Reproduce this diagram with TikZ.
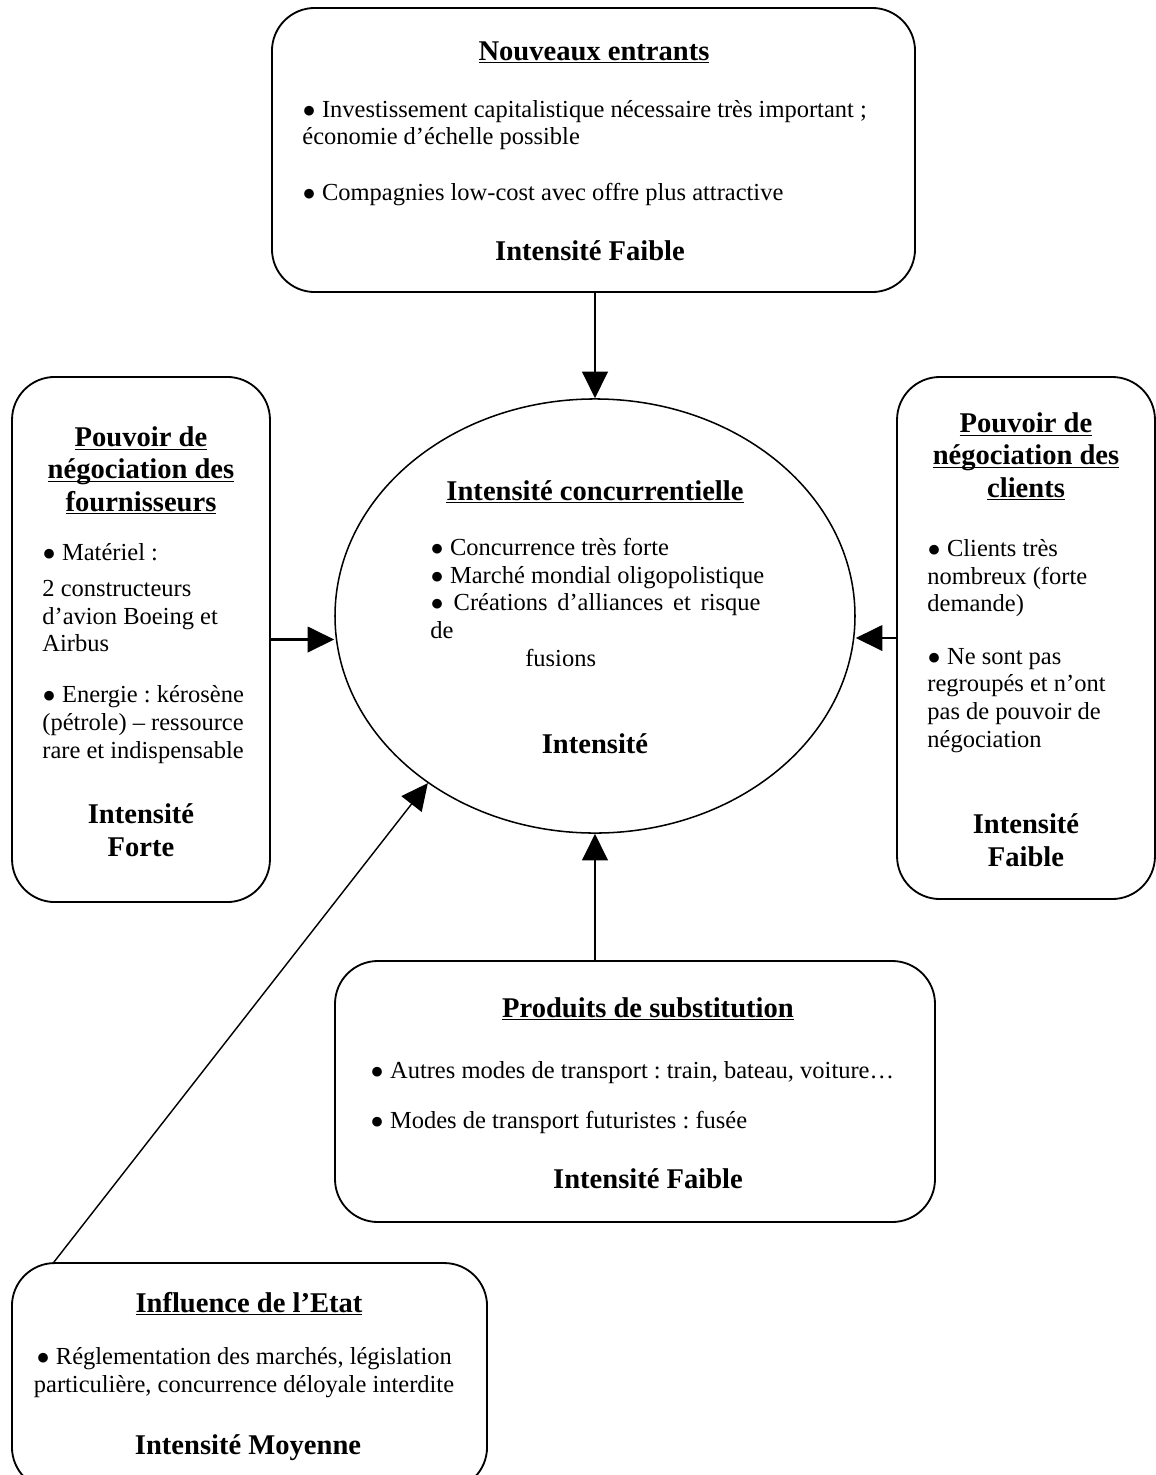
\documentclass[tikz,border=0pt]{standalone}
\usepackage{fontspec}
\setmainfont{Liberation Serif}
\usetikzlibrary{arrows.meta, shapes.geometric}
\frenchspacing
\newcommand{\blt}{{\fontsize{11pt}{11pt}\selectfont ●}\ }
\newcommand{\souligne}[1]{\underline{\smash{#1}}}

\begin{document}
\begin{tikzpicture}[x=0.49pt, y=-0.49pt,
    every node/.style={font=\fontsize{12pt}{13.5pt}\selectfont, inner sep=0pt},
    boite/.style={draw, line width=0.9pt, rounded corners=21pt},
    titre/.style={font=\fontsize{14pt}{15.9pt}\selectfont\bfseries, align=center, anchor=base},
    texte/.style={align=left, anchor=base west},
    fleche/.style={-{Triangle[length=13pt,width=12.5pt]}}]
    \useasboundingbox (0,0) rectangle (1156,1475);
    \clip (0,0) rectangle (1156,1475);

    % les cinq forces et le centre
    \node[draw, ellipse, line width=0.75pt, minimum width=254.8pt, minimum height=212.7pt] (conc) at (595,616) {};
    \node[boite, minimum width=315.1pt, minimum height=139.2pt] (entr) at (593.5,150) {};
    \node[boite, minimum width=126.4pt, minimum height=257.3pt] (fourn) at (141,639.5) {};
    \node[boite, minimum width=126.4pt, minimum height=255.8pt] (cli) at (1026,638) {};
    \node[boite, minimum width=294pt, minimum height=127.9pt] (subst) at (635,1091.5) {};
    \node[boite, minimum width=232.8pt, minimum height=111.2pt] (etat) at (249.5,1376.5) {};

    % nouveaux entrants (base = derniere ligne)
    \node[titre] (entr-t) at (594,60) {\souligne{Nouveaux entrants}};
    \node[texte] (entr-b) at (302,200) {\blt Investissement capitalistique nécessaire très important ;\\économie d’échelle possible\\[13.5pt]\blt Compagnies low-cost avec offre plus attractive};
    \node[titre] (entr-i) at (590,260) {Intensité Faible};

    % fournisseurs
    \node[titre] (fourn-t) at (141,511) {\souligne{Pouvoir de}\\\souligne{négociation des}\\\souligne{fournisseurs}};
    \node[texte] (fourn-b) at (42,758) {\blt Matériel :\\[4.4pt]2 constructeurs\\d’avion Boeing et\\Airbus\\[11.5pt]\blt Energie : kérosène\\(pétrole) – ressource\\rare et indispensable};
    \node[titre] (fourn-i) at (141,856) {Intensité\\Forte};

    % clients
    \node[titre] (cli-t) at (1026,497) {\souligne{Pouvoir de}\\\souligne{négociation des}\\\souligne{clients}};
    \node[texte] (cli-b) at (927,747) {\blt Clients très\\nombreux (forte\\demande)\\[12.3pt]\blt Ne sont pas\\regroupés et n’ont\\pas de pouvoir de\\négociation};
    \node[titre] (cli-i) at (1026,866) {Intensité\\Faible};

    % intensite concurrentielle
    \node[titre] (conc-t) at (595,500) {\souligne{Intensité concurrentielle}};
    \node[texte] (conc-b) at (430,666) {\blt Concurrence très forte\\\blt Marché mondial oligopolistique\\\makebox[161.7pt][s]{\blt Créations d’alliances et risque}\\de\\\hspace*{46.5pt}fusions};
    \node[titre] (conc-i) at (595,753) {Intensité};

    % produits de substitution
    \node[titre] (subst-t) at (648,1017) {\souligne{Produits de substitution}};
    \node[texte] (subst-b) at (370,1128) {\blt Autres modes de transport : train, bateau, voiture…\\[11pt]\blt Modes de transport futuristes : fusée};
    \node[titre] (subst-i) at (648,1188) {Intensité Faible};

    % etat
    \node[titre] (etat-t) at (249,1312) {\souligne{Influence de l’Etat}};
    \node[align=center, anchor=base] (etat-b) at (244,1392) {\blt Réglementation des marchés, législation\\particulière, concurrence déloyale interdite};
    \node[titre] (etat-i) at (248,1454) {Intensité Moyenne};

    % fleches
    \draw[fleche, line width=1.2pt] (entr.south -| conc.north) -- (conc.north);
    \draw[fleche, line width=1pt] (fourn.east) -- (fourn.east -| conc.west);
    \draw[fleche, line width=1pt] (cli.west) -- (cli.west -| conc.east);
    \draw[fleche, line width=1.2pt] (subst.north -| conc.south) -- (conc.south);
    \draw[fleche, line width=0.7pt] ([xshift=21pt]etat.north west) -- (conc.225);
  \end{tikzpicture}
\end{document}
